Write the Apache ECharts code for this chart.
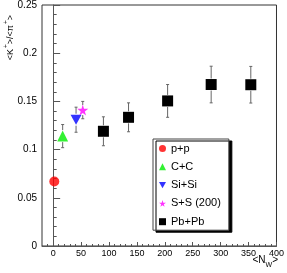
<!DOCTYPE html>
<html>
<head>
<meta charset="utf-8">
<script src="https://cdn.jsdelivr.net/npm/echarts@6/dist/echarts.min.js"></script>
<style>html,body{margin:0;padding:0;background:#fff}#c{width:287px;height:273px}</style>
</head>
<body>
<div id="c"></div>
<script>
// ---- data (N_W, <K+>/<pi+>, error) ----
const ppX = [2],   ppY = [0.067],  ppErr = [0];
const ccX = [17],  ccY = [0.114],  ccErr = [0.012];
const siX = [41],  siY = [0.131],  siErr = [0.013];
const ssX = [53],  ssY = [0.141],  ssErr = [0.009];
const pbX = [90, 135, 205, 283, 354];
const pbY = [0.119, 0.1335, 0.1505, 0.1675, 0.1673];
const pbErr = [0.015, 0.015, 0.017, 0.019, 0.019];
const xMajorTicks = [0, 50, 100, 150, 200, 250, 300, 350, 400];
const xMinorTicks = [-10, 10, 20, 30, 40, 60, 70, 80, 90, 110, 120, 130, 140, 160, 170, 180, 190, 210, 220, 230, 240, 260, 270, 280, 290, 310, 320, 330, 340, 360, 370, 380, 390];
const seriesNames = ['p+p', 'C+C', 'Si+Si', 'S+S (200)', 'Pb+Pb'];

const FONT = 'Liberation Sans';
const starPath = 'path://M50,0 L61,35 L98,35 L68,57 L79,91 L50,70 L21,91 L32,57 L2,35 L39,35 Z';
const downTri = 'path://M0,0 L10,0 L5,9 Z';

function pts(xs, ys) { return xs.map((x, i) => [x, ys[i]]); }
function errs(xs, ys, es, half) { return xs.map((x, i) => [x, ys[i], es[i], half]); }

const errData = [].concat(
  errs(ccX, ccY, ccErr, 6),
  errs(siX, siY, siErr, 6),
  errs(ssX, ssY, ssErr, 5),
  errs(pbX, pbY, pbErr, 6)
);

const chart = echarts.init(document.getElementById('c'), null, {renderer: 'canvas'});
chart.setOption({
  animation: false,
  backgroundColor: '#fff',
  grid: {left: 42, right: 8, top: 5, bottom: 27, show: true, borderColor: '#333', borderWidth: 1, backgroundColor: 'transparent'},
  xAxis: [{
    type: 'value', min: -20, max: 400, position: 'bottom',
    axisLine: {show: true, lineStyle: {color: '#555', width: 1}},
    axisTick: {show: true, inside: true, length: 4, customValues: xMajorTicks, lineStyle: {color: '#555'}},
    axisLabel: {customValues: xMajorTicks, fontFamily: FONT, fontSize: 9, color: '#000', margin: 3},
    splitLine: {show: false}
  }, {
    type: 'value', min: -20, max: 400, position: 'bottom', gridIndex: 0,
    axisLine: {show: false},
    axisTick: {show: true, inside: true, length: 2, customValues: xMinorTicks, lineStyle: {color: '#555'}},
    axisLabel: {show: false},
    splitLine: {show: false}
  }],
  yAxis: {
    type: 'value', min: 0, max: 0.25, interval: 0.05,
    axisLine: {show: true, lineStyle: {color: '#555', width: 1}},
    axisTick: {show: true, inside: true, length: 7, lineStyle: {color: '#555'}},
    minorTick: {show: true, splitNumber: 5, length: 3.5, lineStyle: {color: '#555'}},
    axisLabel: {fontFamily: FONT, fontSize: 10, color: '#000', margin: 5, formatter: v => String(+v.toFixed(2))},
    splitLine: {show: false}
  },
  legend: {
    data: seriesNames,
    orient: 'vertical', left: 153, top: 139,
    itemWidth: 7, itemHeight: 7, itemGap: 7.3,
    padding: [4, 8, 3, 6],
    backgroundColor: '#fff', borderColor: '#444', borderWidth: 1, borderRadius: 0,
    shadowColor: '#000', shadowBlur: 0, shadowOffsetX: 3, shadowOffsetY: 2,
    textStyle: {fontFamily: FONT, fontSize: 11, color: '#000', lineHeight: 11},
    selectedMode: false
  },
  series: [
    {type: 'custom', name: 'err', xAxisIndex: 0, silent: true, z: 1,
      renderItem: function (params, api) {
        const x = api.value(0), y = api.value(1), e = api.value(2), h = api.value(3);
        const c = api.coord([x, y]);
        const t = api.coord([x, y + e]);
        const b = api.coord([x, y - e]);
        const st = {stroke: '#666', lineWidth: 1};
        const ch = [];
        if (t[1] < c[1] - h) ch.push({type: 'line', shape: {x1: c[0], y1: t[1], x2: c[0], y2: c[1] - h}, style: st});
        if (b[1] > c[1] + h) ch.push({type: 'line', shape: {x1: c[0], y1: c[1] + h, x2: c[0], y2: b[1]}, style: st});
        ch.push({type: 'line', shape: {x1: c[0] - 1.5, y1: t[1], x2: c[0] + 1.5, y2: t[1]}, style: st});
        ch.push({type: 'line', shape: {x1: c[0] - 1.5, y1: b[1], x2: c[0] + 1.5, y2: b[1]}, style: st});
        return {type: 'group', children: ch};
      },
      data: errData
    },
    {type: 'scatter', name: seriesNames[0], data: pts(ppX, ppY), symbol: 'circle', symbolSize: 10, itemStyle: {color: '#ff0000'}, z: 3},
    {type: 'scatter', name: seriesNames[1], data: pts(ccX, ccY), symbol: 'triangle', symbolSize: 11, itemStyle: {color: '#00ee00'}, z: 3},
    {type: 'scatter', name: seriesNames[2], data: pts(siX, siY), symbol: downTri, symbolSize: [11, 10], itemStyle: {color: '#0000ff'}, z: 3},
    {type: 'scatter', name: seriesNames[3], data: pts(ssX, ssY), symbol: starPath, symbolSize: 11, itemStyle: {color: '#ff00ff'}, z: 3},
    {type: 'scatter', name: seriesNames[4], data: pts(pbX, pbY), symbol: 'rect', symbolSize: 11, itemStyle: {color: '#000000', opacity: 1}, z: 3}
  ],
  graphic: [
    {type: 'text', x: 9, y: 15, rotation: Math.PI / 2,
      style: {
        text: '{a|<K}{s|+}{a|>/<π}{s|+}{a|>}',
        align: 'right', verticalAlign: 'middle',
        rich: {
          a: {fontFamily: FONT, fontSize: 9, fill: '#000', lineHeight: 12, verticalAlign: 'bottom'},
          s: {fontFamily: FONT, fontSize: 6.5, fill: '#000', lineHeight: 12, verticalAlign: 'top', padding: [0, 0, 0, 1]}
        }
      }
    },
    {type: 'text', x: 278, y: 262,
      style: {
        text: '{a|<N}{b|W}{a|>}',
        align: 'right', verticalAlign: 'middle',
        rich: {
          a: {fontFamily: FONT, fontSize: 10, fill: '#000', lineHeight: 14, verticalAlign: 'top'},
          b: {fontFamily: FONT, fontSize: 7, fill: '#000', lineHeight: 14, verticalAlign: 'bottom'}
        }
      }
    }
  ]
});
</script>
</body>
</html>
